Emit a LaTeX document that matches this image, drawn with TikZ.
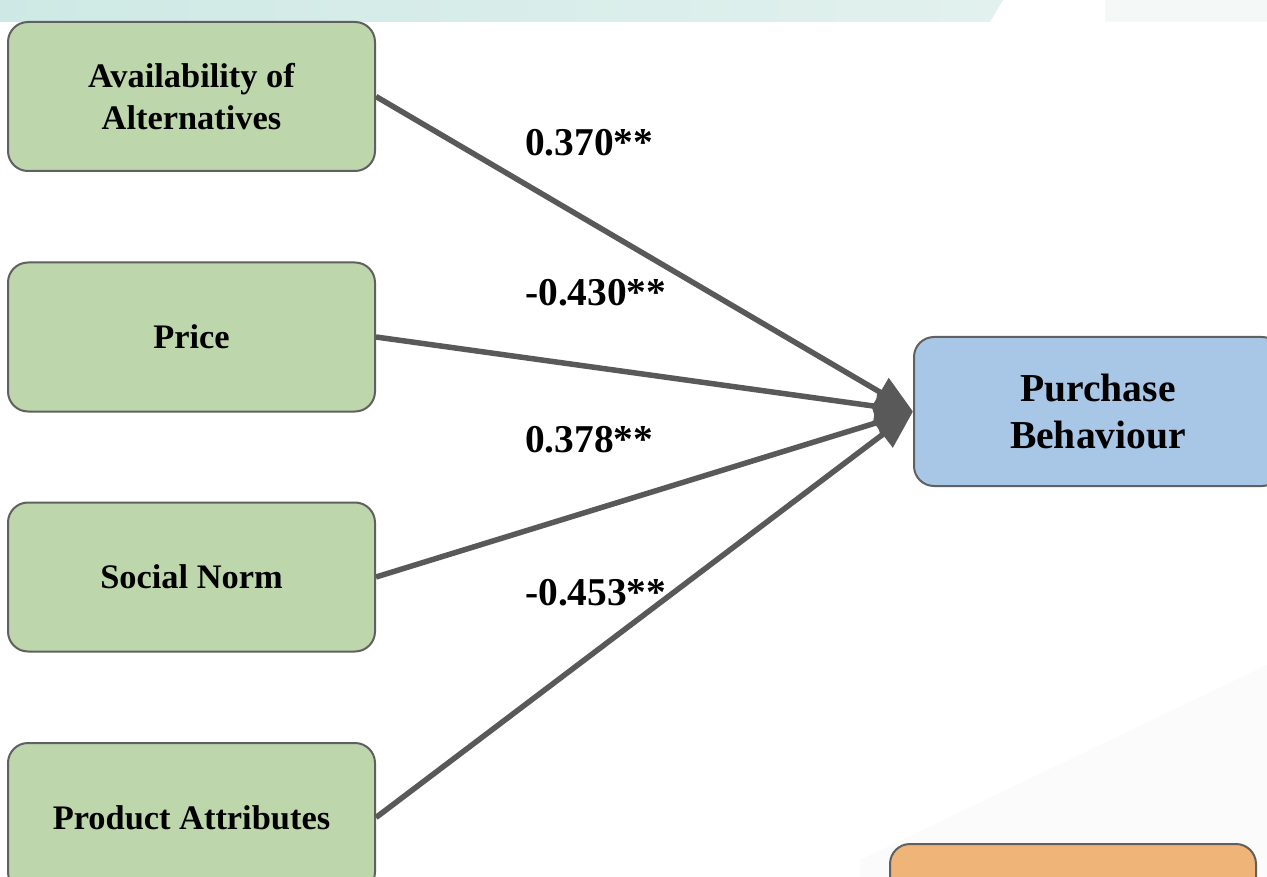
\documentclass[tikz,border=0pt]{standalone}
\usepackage{fontspec}
\setmainfont{Liberation Serif}
\usetikzlibrary{arrows.meta}
\definecolor{boxgreen}{RGB}{189,214,172}
\definecolor{boxblue}{RGB}{168,198,230}
\definecolor{boxorange}{RGB}{238,180,120}
\definecolor{bordergray}{RGB}{96,96,96}
\definecolor{conngray}{RGB}{89,89,89}
\definecolor{bandA}{RGB}{206,233,229}
\definecolor{bandB}{RGB}{194,227,221}
\definecolor{bandC}{RGB}{226,241,238}
\tikzset{
  basebox/.style={draw=bordergray, line width=2pt, rounded corners=20pt,
    minimum width=367pt, minimum height=149pt, align=center, inner sep=0pt},
  gbox/.style={basebox, fill=boxgreen, font=\fontsize{34.4}{42}\selectfont\bfseries},
  bbox/.style={basebox, fill=boxblue, minimum width=368pt, font=\fontsize{39.6}{47}\selectfont\bfseries},
  obox/.style={basebox, fill=boxorange, minimum width=366pt},
  conn/.style={draw=conngray, line width=5.5pt, -{Triangle[length=38pt,width=32pt]}},
  lbl/.style={font=\fontsize{39.4}{47}\selectfont\bfseries, inner sep=0pt, anchor=west}
}
\begin{document}
\begin{tikzpicture}[x=1pt,y=-1pt]
\useasboundingbox (0,0) rectangle (1267,877);
\clip (0,0) rectangle (1267,877);
\fill[white] (0,0) rectangle (1267,877);
% faint background decoration
\fill[black!1.5] (1267,665) -- (860,860) -- (860,877) -- (1267,877) -- cycle;
% top band
\shade[left color=bandA, middle color=bandB, right color=bandC]
  (0,0) -- (1003,0) -- (990,22) -- (0,22) -- cycle;
\fill[bandC!40!white] (1105,0) rectangle (1267,22);
% boxes
\node[gbox] (avail) at (191.5,96.5) {Availability of\\Alternatives};
\node[gbox] (price) at (191.5,337) {Price};
\node[gbox] (social) at (191.5,577) {Social Norm};
\node[gbox] (product) at (191.5,817.5) {Product Attributes};
\node[obox] (orange) at (1073,918.5) {};
\coordinate (tip) at (913,411.5);
% connectors
\draw[conn] (avail.east) -- (tip);
\draw[conn] (price.east) -- (tip);
\draw[conn] (social.east) -- (tip);
\draw[conn] (product.east) -- (tip);
\node[bbox] (purchase) at (1098,411.5) {Purchase\\Behaviour};
% labels
\node[lbl] (l1) at (525,143) {0.370**};
\node[lbl] (l2) at (525,293) {-0.430**};
\node[lbl] (l3) at (525,440) {0.378**};
\node[lbl] (l4) at (525,593) {-0.453**};
\end{tikzpicture}
\end{document}
